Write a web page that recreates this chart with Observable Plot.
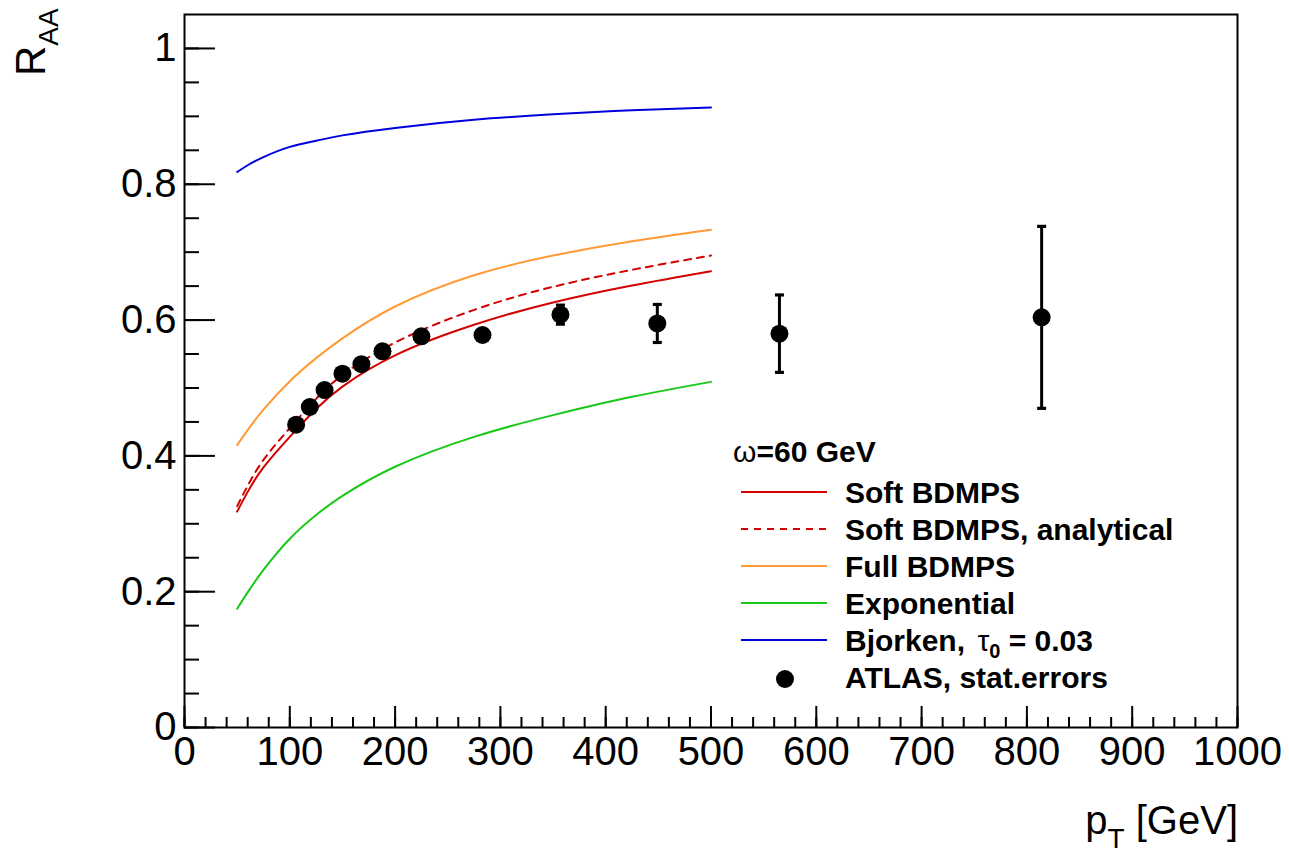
<!DOCTYPE html>
<html>
<head>
<meta charset="utf-8">
<script src="https://cdn.jsdelivr.net/npm/d3@7"></script>
<script src="https://cdn.jsdelivr.net/npm/@observablehq/plot@0.6"></script>
<style>
  body { margin: 0; background: #fff; }
  #chart svg { display: block; }
</style>
</head>
<body>
<div id="chart"></div>
<script>
// ---- Data ----
const pTgrid      = [50, 60, 75, 100, 125, 150, 200, 275, 350, 425, 500];
const softBDMPS   = [0.318, 0.347, 0.383, 0.428, 0.469, 0.502, 0.548, 0.593, 0.626, 0.651, 0.672];
const softAnalyt  = [0.326, 0.356, 0.394, 0.441, 0.484, 0.519, 0.567, 0.615, 0.649, 0.674, 0.695];
const fullBDMPS   = [0.416, 0.438, 0.468, 0.510, 0.544, 0.573, 0.620, 0.666, 0.695, 0.716, 0.733];
const exponential = [0.175, 0.199, 0.232, 0.278, 0.313, 0.341, 0.384, 0.428, 0.460, 0.487, 0.509];
const bjorken     = [0.818, 0.828, 0.840, 0.855, 0.864, 0.872, 0.883, 0.895, 0.903, 0.909, 0.913];

const atlasPT  = [106, 119, 133, 150, 168, 188, 225, 283, 357, 449, 565, 814];
const atlasR   = [0.446, 0.472, 0.497, 0.521, 0.535, 0.554, 0.576, 0.578, 0.608, 0.595, 0.580, 0.604];
const atlasErr = [0.004, 0.004, 0.004, 0.005, 0.005, 0.005, 0.006, 0.008, 0.014, 0.028, 0.057, 0.134];

const xMajor = [0, 100, 200, 300, 400, 500, 600, 700, 800, 900, 1000];
const xMinor = d3.range(0, 1001, 20);
const yMajor = [0, 0.2, 0.4, 0.6, 0.8, 1];
const yMinor = [0, 0.05, 0.1, 0.15, 0.2, 0.25, 0.3, 0.35, 0.4, 0.45, 0.5, 0.55, 0.6, 0.65, 0.7, 0.75, 0.8, 0.85, 0.9, 0.95, 1];

const legendHeader = "=60 GeV";
const legendLabels = ["Soft BDMPS", "Soft BDMPS, analytical", "Full BDMPS", "Exponential", "Bjorken, ", "ATLAS, stat.errors"];

// ---- Styles ----
const colors = {soft: "#d40000", full: "#ff9a36", expo: "#19c819", bj: "#0000dc"};

const toRows = (vals) => pTgrid.map((p, i) => ({pT: p, R: vals[i]}));
const atlas = atlasPT.map((p, i) => ({pT: p, R: atlasR[i], lo: atlasR[i] - atlasErr[i], hi: atlasR[i] + atlasErr[i]}));

const capSymbol = { draw(ctx) { ctx.rect(-4.5, -1.6, 9, 3.2); } };

const chart = Plot.plot({
  width: 1289,
  height: 854,
  marginLeft: 184,
  marginRight: 52,
  marginTop: 14,
  marginBottom: 127,
  style: {fontFamily: "'Liberation Sans', Arial, Helvetica, sans-serif", background: "white", color: "black", overflow: "visible"},
  x: {domain: [0, 1000]},
  y: {domain: [0, 1.05]},
  marks: [
    Plot.ruleX(xMinor, {x: d => d, y1: 0, y2: 0.0147, stroke: "black", strokeWidth: 2}),
    Plot.ruleX(xMajor, {x: d => d, y1: 0, y2: 0.031, stroke: "black", strokeWidth: 2}),
    Plot.ruleY(yMinor, {y: d => d, x1: 0, x2: 14.2, stroke: "black", strokeWidth: 2}),
    Plot.ruleY(yMajor, {y: d => d, x1: 0, x2: 29.4, stroke: "black", strokeWidth: 2}),
    Plot.axisX(xMajor, {tickSize: 0, tickPadding: 9, fontSize: 40, label: null, tickFormat: d => String(d)}),
    Plot.axisY(yMajor, {tickSize: 0, tickPadding: 8, fontSize: 40, label: null, tickFormat: d => String(d)}),
    Plot.line(toRows(exponential), {x: "pT", y: "R", stroke: colors.expo, strokeWidth: 2, curve: "natural"}),
    Plot.line(toRows(fullBDMPS), {x: "pT", y: "R", stroke: colors.full, strokeWidth: 2, curve: "natural"}),
    Plot.line(toRows(bjorken), {x: "pT", y: "R", stroke: colors.bj, strokeWidth: 2, curve: "natural"}),
    Plot.line(toRows(softAnalyt), {x: "pT", y: "R", stroke: colors.soft, strokeWidth: 2, strokeDasharray: "7,6", curve: "natural"}),
    Plot.line(toRows(softBDMPS), {x: "pT", y: "R", stroke: colors.soft, strokeWidth: 2, curve: "natural"}),
    Plot.ruleX(atlas, {x: "pT", y1: "lo", y2: "hi", stroke: "black", strokeWidth: 3}),
    Plot.dot(atlas, {x: "pT", y: "lo", symbol: capSymbol, fill: "black", stroke: "none"}),
    Plot.dot(atlas, {x: "pT", y: "hi", symbol: capSymbol, fill: "black", stroke: "none"}),
    Plot.dot(atlas, {x: "pT", y: "R", r: 9, fill: "black", stroke: "none"}),
    Plot.frame({stroke: "black", strokeWidth: 2})
  ]
});

document.getElementById("chart").appendChild(chart);

// ---- Axis titles ----
const svg = d3.select(chart);
const yt = svg.append("text")
  .attr("transform", "translate(45,76) rotate(-90)")
  .attr("text-anchor", "start")
  .attr("font-size", 42).attr("fill", "black");
yt.append("tspan").text("R");
yt.append("tspan").attr("font-size", 28).attr("dy", 13).text("AA");

const xt = svg.append("text")
  .attr("x", 1238).attr("y", 834).attr("text-anchor", "end")
  .attr("font-size", 40).attr("fill", "black");
xt.append("tspan").text("p");
xt.append("tspan").attr("font-size", 28).attr("dy", 14).text("T");
xt.append("tspan").attr("dy", -14).text(" [GeV]");

// ---- Legend ----
const lg = svg.append("g").attr("font-size", 30).attr("font-weight", "bold")
  .attr("fill", "black").attr("text-anchor", "start");
const hdr = lg.append("text").attr("x", 733).attr("y", 462);
hdr.append("tspan").attr("font-weight", "normal").text("\u03C9");
hdr.append("tspan").text(legendHeader);

const rowY = [492, 529, 566, 603, 640, 677];
const lineStyles = [
  {stroke: colors.soft, dash: null},
  {stroke: colors.soft, dash: "7,6"},
  {stroke: colors.full, dash: null},
  {stroke: colors.expo, dash: null},
  {stroke: colors.bj, dash: null}
];
lineStyles.forEach((s, i) => {
  lg.append("line").attr("x1", 741).attr("x2", 827).attr("y1", rowY[i]).attr("y2", rowY[i])
    .attr("stroke", s.stroke).attr("stroke-width", 2).attr("stroke-dasharray", s.dash);
});
lg.append("circle").attr("cx", 785).attr("cy", rowY[5] + 2).attr("r", 9).attr("fill", "black");
legendLabels.forEach((lab, i) => {
  const t = lg.append("text").attr("x", 845).attr("y", rowY[i] + 11);
  t.append("tspan").text(lab);
  if (i === 4) {
    t.append("tspan").attr("font-weight", "normal").attr("dx", 4).text("\u03C4");
    t.append("tspan").attr("font-size", 20).attr("dy", 7).text("0");
    t.append("tspan").attr("dy", -7).text(" = 0.03");
  }
});
</script>
</body>
</html>
